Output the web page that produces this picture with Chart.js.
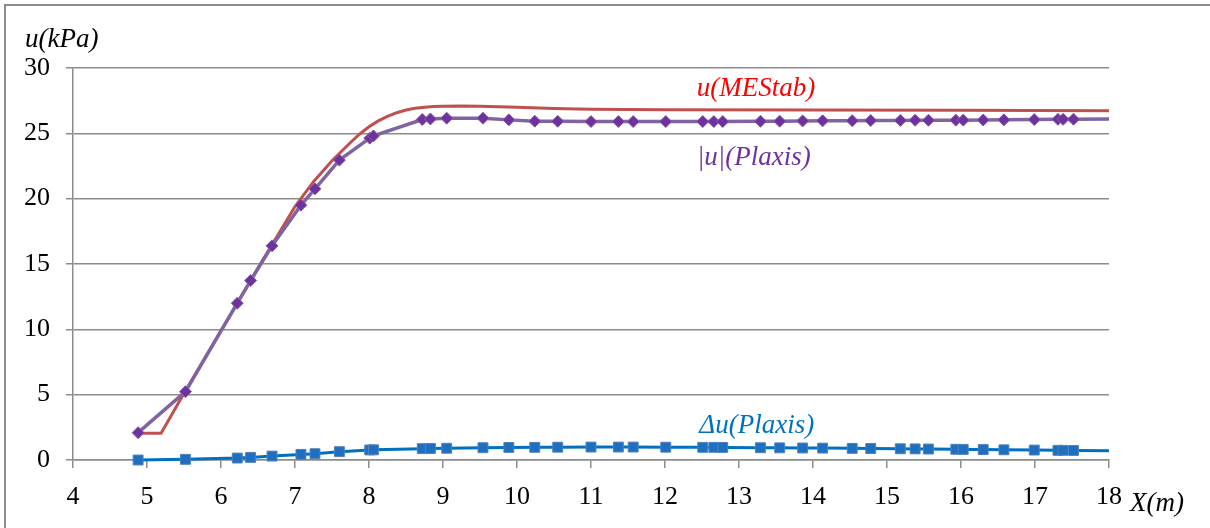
<!DOCTYPE html>
<html>
<head>
<meta charset="utf-8">
<script src="https://cdn.jsdelivr.net/npm/chart.js@4"></script>
<style>
  body { margin: 0; background: #fff; }
</style>
</head>
<body>
<canvas id="myChart" width="1210" height="528"></canvas>
<script>
// Plaxis output points (x in m)
var plaxisX = [4.88, 5.52, 6.22, 6.40, 6.69, 7.08, 7.27, 7.60, 8.01, 8.06, 8.72, 8.83, 9.05, 9.54, 9.89, 10.24, 10.55, 11.00, 11.37, 11.57, 12.01, 12.51, 12.66, 12.78, 13.29, 13.55, 13.86, 14.13, 14.53, 14.78, 15.18, 15.38, 15.56, 15.93, 16.03, 16.30, 16.58, 16.99, 17.31, 17.38, 17.52, 18.00];
var uPlaxis = [2.09, 5.23, 12.0, 13.73, 16.39, 19.5, 20.75, 22.95, 24.63, 24.8, 26.06, 26.1, 26.16, 26.16, 26.03, 25.93, 25.92, 25.9, 25.9, 25.9, 25.9, 25.9, 25.9, 25.9, 25.92, 25.93, 25.95, 25.96, 25.97, 25.98, 25.99, 26.0, 26.0, 26.01, 26.01, 26.02, 26.03, 26.05, 26.07, 26.07, 26.08, 26.1];
var duPlaxis = [0.0, 0.05, 0.15, 0.2, 0.3, 0.43, 0.48, 0.64, 0.77, 0.78, 0.87, 0.88, 0.9, 0.94, 0.96, 0.97, 0.98, 0.99, 0.99, 0.99, 0.98, 0.97, 0.97, 0.96, 0.94, 0.93, 0.92, 0.91, 0.89, 0.88, 0.86, 0.85, 0.84, 0.82, 0.81, 0.8, 0.78, 0.76, 0.74, 0.74, 0.73, 0.7];

// MEStab curve
var mestabX = [4.89, 5.19, 5.51, 6.0, 6.5, 7.0, 7.25, 7.5, 7.75, 7.875, 8.0, 8.125, 8.25, 8.375, 8.5, 8.625, 8.75, 8.875, 9.0, 9.25, 9.5, 10.0, 10.5, 11.0, 12.0, 14.0, 16.0, 18.0];
var uMEStab = [2.04, 2.04, 5.2, 9.9, 14.7, 19.4, 21.3, 22.9, 24.3, 24.95, 25.5, 25.95, 26.3, 26.58, 26.78, 26.92, 27.0, 27.05, 27.08, 27.1, 27.08, 27.0, 26.9, 26.85, 26.8, 26.78, 26.76, 26.72];

var xTicks = [4, 5, 6, 7, 8, 9, 10, 11, 12, 13, 14, 15, 16, 17, 18];
var yTicks = [0, 5, 10, 15, 20, 25, 30];

function pts(xs, ys) {
    return xs.map(function (x, i) { return { x: x, y: ys[i] }; });
}
// last Plaxis point (x=18) has no marker
var markerR = plaxisX.map(function (x, i) { return i === plaxisX.length - 1 ? 0 : 1; });

var gridColor = '#8c8c8c';
var serif = "'Liberation Serif', 'Times New Roman', serif";

var labelsPlugin = {
    id: 'labels',
    afterDraw: function (chart) {
        var c = chart.ctx;
        var xs = chart.scales.x, ys = chart.scales.y;
        c.save();
        // outer frame (top and left)
        c.strokeStyle = gridColor;
        c.lineWidth = 2;
        c.beginPath();
        c.moveTo(5, 528);
        c.lineTo(5, 5);
        c.lineTo(1210, 5);
        c.stroke();

        c.font = 'italic 27px ' + serif;
        c.textBaseline = 'middle';
        c.fillStyle = '#000';
        c.textAlign = 'left';
        c.fillText('u(kPa)', 25, 40);
        c.fillText('X(m)', 1130, 504);

        c.textAlign = 'center';
        c.fillStyle = '#ff0000';
        c.fillText('u(MEStab)', xs.getPixelForValue(13.23), ys.getPixelForValue(28.4));
        c.fillStyle = '#7030a0';
        c.fillText('|u|(Plaxis)', xs.getPixelForValue(13.2), ys.getPixelForValue(23.1));
        c.fillStyle = '#0070c0';
        c.fillText('\u0394u(Plaxis)', xs.getPixelForValue(13.24), ys.getPixelForValue(2.6));
        c.restore();
    }
};

var ctx = document.getElementById('myChart').getContext('2d');
var myChart = new Chart(ctx, {
    type: 'scatter',
    data: {
        datasets: [{
            label: 'u(MEStab)',
            data: pts(mestabX, uMEStab),
            showLine: true,
            borderColor: '#c0504d',
            borderWidth: 3,
            pointRadius: 0,
            tension: 0,
            clip: false,
            order: 3
        }, {
            label: '|u|(Plaxis)',
            data: pts(plaxisX, uPlaxis),
            showLine: true,
            borderColor: '#8064a2',
            borderWidth: 3.5,
            pointStyle: 'rectRot',
            pointRadius: markerR.map(function (m) { return m * 6; }),
            pointBackgroundColor: '#7030a0',
            pointBorderColor: '#8064a2',
            pointBorderWidth: 1,
            clip: false,
            order: 2
        }, {
            label: '\u0394u(Plaxis)',
            data: pts(plaxisX, duPlaxis),
            showLine: true,
            borderColor: '#0070c0',
            borderWidth: 3,
            pointStyle: 'rect',
            pointRadius: markerR.map(function (m) { return m * 7; }),
            pointBackgroundColor: '#1f6fc0',
            pointBorderColor: '#4f81bd',
            pointBorderWidth: 1,
            clip: false,
            order: 1
        }]
    },
    options: {
        responsive: false,
        animation: false,
        layout: { padding: { left: 0, top: 68, right: 101, bottom: 0 } },
        plugins: {
            legend: { display: false },
            tooltip: { enabled: false }
        },
        scales: {
            x: {
                type: 'linear',
                min: 4,
                max: 18,
                afterFit: function (s) { s.height = 68; },
                afterBuildTicks: function (s) { s.ticks = xTicks.map(function (v) { return { value: v }; }); },
                grid: { drawOnChartArea: false, drawTicks: true, tickLength: 8, color: gridColor, lineWidth: 1.5 },
                border: { color: gridColor, width: 1.5 },
                ticks: { color: '#000', font: { family: serif, size: 26 }, padding: 14, maxRotation: 0 }
            },
            y: {
                min: 0,
                max: 30,
                afterFit: function (s) { s.width = 73; },
                afterBuildTicks: function (s) { s.ticks = yTicks.map(function (v) { return { value: v }; }); },
                grid: { color: gridColor, lineWidth: 1.5, tickLength: 7 },
                border: { color: gridColor, width: 1.5 },
                ticks: { color: '#000', font: { family: serif, size: 26 }, padding: 16 }
            }
        }
    },
    plugins: [labelsPlugin]
});
</script>
</body>
</html>
